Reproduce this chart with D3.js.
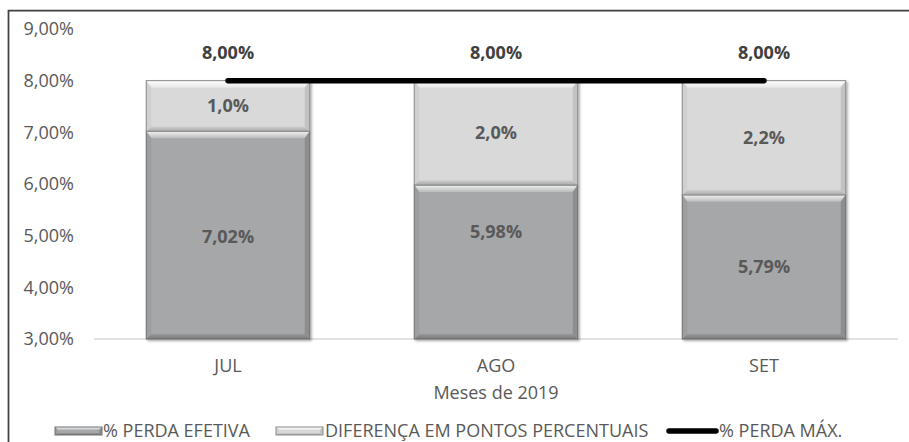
<!DOCTYPE html>
<html>
<head>
<meta charset="utf-8">
<script src="https://cdn.jsdelivr.net/npm/d3@7"></script>
<style>
  html, body { margin: 0; padding: 0; background: #ffffff; }
  svg { display: block; font-family: "Open Sans", sans-serif; }
</style>
</head>
<body>
<svg id="chart" width="909" height="442"></svg>
<script>
// Perda de água por mês (2019)
const meses = ["JUL", "AGO", "SET"];
const perdaEfetiva = [7.02, 5.98, 5.79];
const diferenca = [0.98, 2.02, 2.21];
const perdaMax = [8.00, 8.00, 8.00];
const yTicks = [3, 4, 5, 6, 7, 8, 9];
const xTitle = "Meses de 2019";
const legendLabels = ["% PERDA EFETIVA", "DIFERENÇA EM PONTOS PERCENTUAIS", "% PERDA MÁX."];

const rows = meses.map((m, i) => ({ mes: m, efetiva: perdaEfetiva[i], diferenca: diferenca[i], max: perdaMax[i] }));

const locale = d3.formatLocale({ decimal: ",", thousands: ".", grouping: [3], currency: ["R$", ""] });
const fmt2 = v => locale.format(".2f")(v) + "%";
const fmt1 = v => locale.format(".1f")(v) + "%";

const svg = d3.select("#chart");
const textColor = "#595959";
const fs = 18;

const x = d3.scaleBand().domain(meses).range([94, 898]).paddingInner(0.39).paddingOuter(0.195);
const y = d3.scaleLinear().domain([3, 9]).range([339, 29]);
const yMin = y.domain()[0];

// hand-placed label nudges (pixels) for the lower segment
const nudgeEfetiva = { JUL: 2, AGO: -30, SET: 0 };

const defs = svg.append("defs");
const shadow = defs.append("filter").attr("id", "sombra").attr("x", "-10%").attr("y", "-10%").attr("width", "130%").attr("height", "130%");
shadow.append("feDropShadow").attr("dx", 1.5).attr("dy", 1.5).attr("stdDeviation", 1.2)
  .attr("flood-color", "#000").attr("flood-opacity", 0.35);

function grad(id, c1, c2, vertical) {
  const g = defs.append("linearGradient").attr("id", id)
    .attr("x1", 0).attr("y1", 0).attr("x2", vertical ? 0 : 1).attr("y2", vertical ? 1 : 0);
  g.append("stop").attr("offset", "0%").attr("stop-color", c1);
  g.append("stop").attr("offset", "100%").attr("stop-color", c2);
}

// bevel palettes per series
const estilos = {
  efetiva:   { face: "#a5a7a8", top1: "#f2f2f2", top2: "#b8babb", bot1: "#96989a", bot2: "#77797a", left: "#9c9e9f", right: "#8c8e8f", stroke: "#6f7172" },
  diferenca: { face: "#d9d9d9", top1: "#ffffff", top2: "#e6e6e6", bot1: "#cfcfcf", bot2: "#a9a9a9", left: "#d0d0d0", right: "#c2c2c2", stroke: "#8a8a8a" }
};
Object.entries(estilos).forEach(([k, s]) => {
  grad("top-" + k, s.top1, s.top2, true);
  grad("bot-" + k, s.bot1, s.bot2, true);
});

// bevelled rectangle
function bevel(g, x0, y0, w, h, key, bv, bs) {
  const s = estilos[key];
  const x1 = x0 + w, y1 = y0 + h;
  const grp = g.append("g");
  grp.append("rect").attr("x", x0).attr("y", y0).attr("width", w).attr("height", h)
    .attr("fill", s.face);
  const poly = (pts, fill) => grp.append("polygon").attr("points", pts.map(p => p.join(",")).join(" ")).attr("fill", fill);
  const bb = bv * 0.7;
  poly([[x0, y0], [x1, y0], [x1 - bs, y0 + bv], [x0 + bs, y0 + bv]], `url(#top-${key})`);
  poly([[x0, y1], [x1, y1], [x1 - bs, y1 - bb], [x0 + bs, y1 - bb]], `url(#bot-${key})`);
  poly([[x0, y0], [x0 + bs, y0 + bv], [x0 + bs, y1 - bb], [x0, y1]], s.left);
  poly([[x1, y0], [x1 - bs, y0 + bv], [x1 - bs, y1 - bb], [x1, y1]], s.right);
  grp.append("rect").attr("x", x0).attr("y", y0).attr("width", w).attr("height", h)
    .attr("fill", "none").attr("stroke", s.stroke).attr("stroke-width", 1);
  return grp;
}

// chart frame (left and top edges)
svg.append("path").attr("d", "M8.5,442 L8.5,10.5 L909,10.5").attr("fill", "none")
  .attr("stroke", "#404040").attr("stroke-width", 1.75);

// y axis labels
const yAxis = svg.append("g").attr("transform", "translate(74,0)")
  .call(d3.axisLeft(y).tickValues(yTicks).tickFormat(fmt2).tickSize(0).tickPadding(0));
yAxis.select(".domain").remove();
yAxis.selectAll("text").attr("fill", textColor).attr("font-size", fs).attr("font-family", "Open Sans");

// baseline
svg.append("line").attr("x1", x.range()[0]).attr("x2", x.range()[1])
  .attr("y1", y(yMin)).attr("y2", y(yMin)).attr("stroke", "#d9d9d9").attr("stroke-width", 1.5);

// stacked bars (values start at zero; the axis floor clips them)
const series = d3.stack().keys(["efetiva", "diferenca"])(rows);
const clip = d => [Math.max(d[0], yMin), Math.max(d[1], yMin)];

const barsG = svg.append("g").attr("filter", "url(#sombra)");
series.forEach(s => {
  s.forEach(d => {
    const [v0, v1] = clip(d);
    const x0 = x(d.data.mes), w = x.bandwidth();
    const yt = y(v1), yb = y(v0);
    bevel(barsG, x0, yt, w, yb - yt, s.key, 7, 5);
  });
});

// segment labels
const labelsG = svg.append("g").attr("font-weight", "bold").attr("font-size", fs).attr("fill", textColor)
  .attr("text-anchor", "middle");
series.forEach(s => {
  labelsG.selectAll(null).data(s).enter().append("text")
    .attr("x", d => x(d.data.mes) + x.bandwidth() / 2)
    .attr("y", d => {
      const [v0, v1] = clip(d);
      const nudge = s.key === "efetiva" ? nudgeEfetiva[d.data.mes] : 0;
      return (y(v0) + y(v1)) / 2 + 6 + nudge;
    })
    .text(d => s.key === "efetiva" ? fmt2(d.data.efetiva) : fmt1(d.data.diferenca));
});

// max loss line
const line = d3.line().x(d => x(d.mes) + x.bandwidth() / 2).y(d => y(d.max));
svg.append("path").datum(rows).attr("d", line).attr("fill", "none")
  .attr("stroke", "#000").attr("stroke-width", 5.5).attr("stroke-linecap", "round");

// max loss labels
svg.append("g").selectAll("text").data(rows).enter().append("text")
  .attr("x", d => x(d.mes) + x.bandwidth() / 2)
  .attr("y", d => y(d.max) - 22)
  .attr("text-anchor", "middle").attr("font-weight", "bold").attr("font-size", fs)
  .attr("fill", "#404040").text(d => fmt2(d.max));

// x axis labels
const xAxis = svg.append("g").attr("transform", `translate(0,${y(yMin)})`)
  .call(d3.axisBottom(x).tickSize(0).tickPadding(20));
xAxis.select(".domain").remove();
xAxis.selectAll("text").attr("fill", textColor).attr("font-size", fs).attr("font-family", "Open Sans");

svg.append("text").attr("x", (x.range()[0] + x.range()[1]) / 2).attr("y", 399)
  .attr("text-anchor", "middle").attr("fill", textColor).attr("font-size", fs).text(xTitle);

// legend
const legend = svg.append("g");
const lgBase = 437;
bevel(legend, 55, lgBase - 10, 47, 8, "efetiva", 3, 3);
legend.append("text").attr("x", 103).attr("y", lgBase).attr("fill", textColor).attr("font-size", fs).text(legendLabels[0]);
bevel(legend, 276, lgBase - 10, 47, 8, "diferenca", 3, 3);
legend.append("text").attr("x", 325).attr("y", lgBase).attr("fill", textColor).attr("font-size", fs).text(legendLabels[1]);
legend.append("line").attr("x1", 669).attr("x2", 716).attr("y1", lgBase - 6).attr("y2", lgBase - 6)
  .attr("stroke", "#000").attr("stroke-width", 5.5).attr("stroke-linecap", "round");
legend.append("text").attr("x", 719).attr("y", lgBase).attr("fill", textColor).attr("font-size", fs).text(legendLabels[2]);
</script>
</body>
</html>
